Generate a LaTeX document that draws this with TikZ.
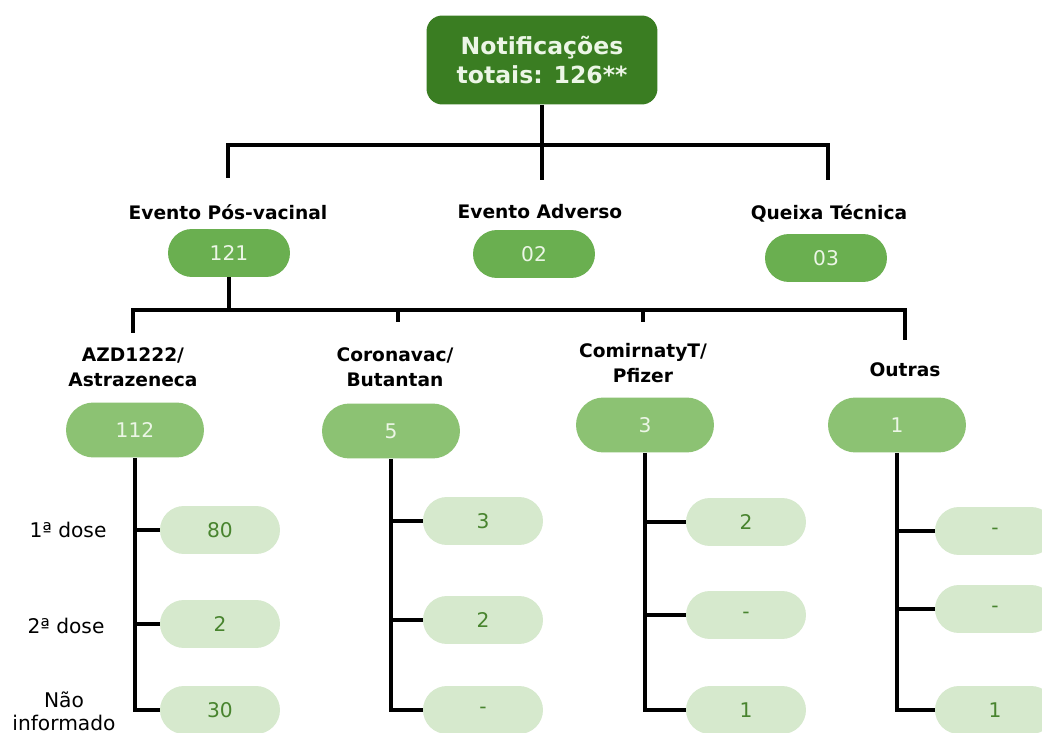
\documentclass[tikz,border=0pt]{standalone}
\usepackage{fontspec}
\setmainfont{DejaVu Sans}
\usetikzlibrary{positioning}
\definecolor{topgreen} {RGB}{58, 125, 34}
\definecolor{midgreen} {RGB}{106, 175, 80}
\definecolor{vacgreen} {RGB}{140, 194, 115}
\definecolor{leafgreen}{RGB}{214, 233, 205}
\definecolor{leaftext} {RGB}{72, 132, 46}
\definecolor{pilltext} {RGB}{236, 246, 230}

\begin{document}
\begin{tikzpicture}[x=0.02cm, y=-0.02cm,
  total/.style={fill=topgreen, rounded corners=9pt, minimum width=4.62cm, minimum height=1.78cm, align=center, text=pilltext, font=\fontsize{13.4}{17}\selectfont\bfseries},
  tipo/.style={fill=midgreen, rounded corners=0.48cm, minimum width=2.44cm, minimum height=0.96cm, text=pilltext, font=\fontsize{11.5}{13}\selectfont},
  vacina/.style={fill=vacgreen, rounded corners=0.55cm, minimum width=2.76cm, minimum height=1.1cm, text=pilltext, font=\fontsize{11.5}{13}\selectfont},
  dose/.style={fill=leafgreen, rounded corners=0.48cm, minimum width=2.4cm, minimum height=0.96cm, text=leaftext, font=\fontsize{11.5}{13}\selectfont},
  rotulo/.style={align=center, font=\fontsize{10.6}{14.5}\selectfont\bfseries},
  doselbl/.style={align=center, font=\fontsize{11.5}{13}\selectfont},
  link/.style={line width=1.8pt, color=black}
]
  \clip (0,0) rectangle (1042,733);
  \fill[white] (0,0) rectangle (1042,733);

  % Top
  \node[total] (tot) at (542,60) {Notificações\\totais: 126**};

  % Types
  \node[rotulo] (lbPV) at (228,212) {Evento Pós-vacinal};
  \node[rotulo] (lbEA) at (540,212) {Evento Adverso};
  \node[rotulo] (lbQT) at (829,213) {Queixa Técnica};
  \node[tipo] (pPV) at (229,253) {121};
  \node[tipo] (pEA) at (534,254) {02};
  \node[tipo] (pQT) at (826,258) {03};

  \coordinate (cPV) at (228,178);
  \coordinate (cEA) at (542,180);
  \coordinate (cQT) at (828,180);
  \draw[link] (tot) -- (cEA);
  \draw[link] (cPV) -- (cPV |- 0,145) -- (cQT |- 0,145) -- (cQT);

  % Vaccines
  \node[rotulo] (lbAZ) at (133,367) {AZD1222/\\Astrazeneca};
  \node[rotulo] (lbCV) at (395,367) {Coronavac/\\Butantan};
  \node[rotulo] (lbPF) at (643,363) {ComirnatyT/\\Pfizer};
  \node[rotulo] (lbOU) at (905,370) {Outras};
  \node[vacina] (v1) at (135,430) {112};
  \node[vacina] (v2) at (391,431) {5};
  \node[vacina] (v3) at (645,425) {3};
  \node[vacina] (v4) at (897,425) {1};

  \coordinate (cAZ) at (133,333);
  \coordinate (cCV) at (398,322);
  \coordinate (cPF) at (643,322);
  \coordinate (cOU) at (905,340);
  \coordinate (jPV) at (229,310);
  \draw[link] (pPV) -- (jPV);
  \draw[link] (cAZ) -- (cAZ |- jPV) -- (cOU |- jPV) -- (cOU);
  \draw[link] (cCV |- jPV) -- (cCV);
  \draw[link] (cPF |- jPV) -- (cPF);

  % Doses
  \node[doselbl] (l1) at (68,530) {1ª dose};
  \node[doselbl] (l2) at (66,626) {2ª dose};
  \node[doselbl] (l3) at (64,711) {Não\\informado};

  \node[dose] (d11) at (220,530) {80};
  \node[dose] (d12) at (220,624) {2};
  \node[dose] (d13) at (220,710) {30};
  \node[dose] (d21) at (483,521) {3};
  \node[dose] (d22) at (483,620) {2};
  \node[dose] (d23) at (483,710) {-};
  \node[dose] (d31) at (746,522) {2};
  \node[dose] (d32) at (746,615) {-};
  \node[dose] (d33) at (746,710) {1};
  \node[dose] (d41) at (995,531) {-};
  \node[dose] (d42) at (995,609) {-};
  \node[dose] (d43) at (995,710) {1};

  \draw[link] (v1) -- (v1 |- d13) -- (d13);
  \draw[link] (v1 |- d11) -- (d11);
  \draw[link] (v1 |- d12) -- (d12);
  \draw[link] (v2) -- (v2 |- d23) -- (d23);
  \draw[link] (v2 |- d21) -- (d21);
  \draw[link] (v2 |- d22) -- (d22);
  \draw[link] (v3) -- (v3 |- d33) -- (d33);
  \draw[link] (v3 |- d31) -- (d31);
  \draw[link] (v3 |- d32) -- (d32);
  \draw[link] (v4) -- (v4 |- d43) -- (d43);
  \draw[link] (v4 |- d41) -- (d41);
  \draw[link] (v4 |- d42) -- (d42);
\end{tikzpicture}
\end{document}
